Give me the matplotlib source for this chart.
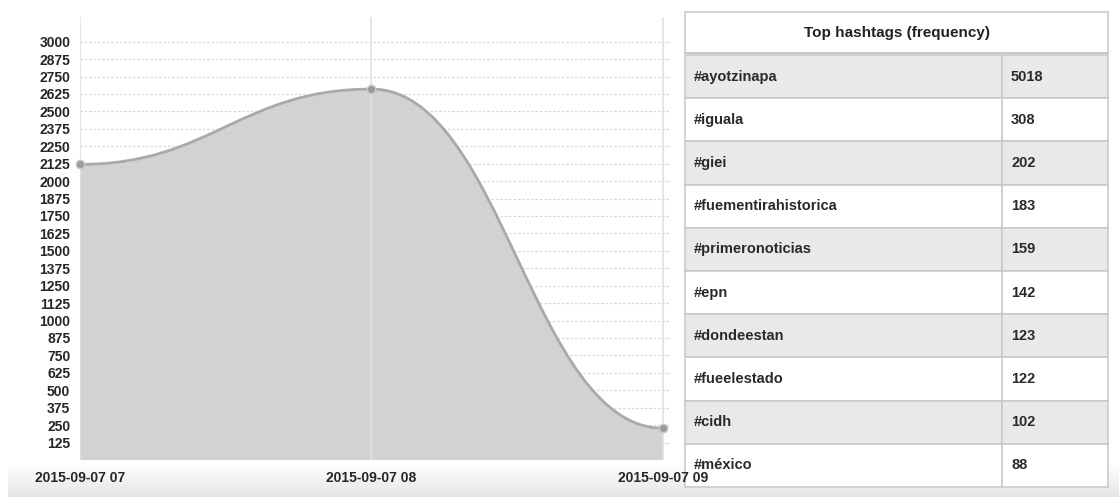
import matplotlib
matplotlib.use("Agg")
import matplotlib.pyplot as plt
import numpy as np
from matplotlib.path import Path
from matplotlib.patches import PathPatch, Rectangle

# ---- data ----
time_labels = ["2015-09-07 07", "2015-09-07 08", "2015-09-07 09"]
tweet_counts = [2120, 2660, 228]
y_ticks = list(range(125, 3001, 125))
hashtags = ["#ayotzinapa", "#iguala", "#giei", "#fuementirahistorica", "#primeronoticias",
            "#epn", "#dondeestan", "#fueelestado", "#cidh", "#méxico"]
hashtag_counts = [5018, 308, 202, 183, 159, 142, 123, 122, 102, 88]
table_title = "Top hashtags (frequency)"

W, H = 1119, 497
fig = plt.figure(figsize=(W / 100, H / 100), dpi=100)
plt.rcParams['font.family'] = ['Liberation Sans', 'DejaVu Sans']

# ---- background / table axes (pixel coordinates) ----
bg = fig.add_axes([0, 0, 1, 1], zorder=1)
bg.set_xlim(0, W)
bg.set_ylim(H, 0)
bg.axis('off')

# bottom gradient band
grad = np.linspace(1.0, 0.90, 64).reshape(-1, 1)
bg.imshow(np.dstack([grad, grad, grad]), extent=(8, W, H, 463), aspect='auto', zorder=0)

tx0, tx1, tsplit = 685, 1108, 1002
ttop, thead = 12, 53
row_h = 43.2
border = '#c8c8c8'
cell_fs = 10.5
# header
bg.add_patch(Rectangle((tx0, ttop), tx1 - tx0, thead - ttop, facecolor='white', edgecolor=border, lw=1.1, zorder=2))
bg.text((tx0 + tx1) / 2, (ttop + thead) / 2, table_title, ha='center', va='center',
        fontsize=11, fontweight='bold', color='#222', zorder=5)
for i, (tag, cnt) in enumerate(zip(hashtags, hashtag_counts)):
    y0 = thead + 2 + i * row_h
    fc = '#e9e9e9' if i % 2 == 0 else 'white'
    bg.add_patch(Rectangle((tx0, y0), tsplit - tx0, row_h, facecolor=fc, edgecolor=border, lw=1.1, zorder=2))
    bg.add_patch(Rectangle((tsplit, y0), tx1 - tsplit, row_h, facecolor=fc, edgecolor=border, lw=1.1, zorder=2))
    bg.text(tx0 + 9, y0 + row_h / 2, tag, ha='left', va='center', fontsize=cell_fs,
            fontweight='bold', color='#2a2a2a', zorder=5)
    bg.text(tsplit + 9, y0 + row_h / 2, str(cnt), ha='left', va='center', fontsize=cell_fs,
            fontweight='bold', color='#2a2a2a', zorder=5)
bg.plot([tx0, tx1], [thead, thead], color=border, lw=1.5, zorder=3)

# ---- chart axes ----
ax = fig.add_axes([80 / W, (H - 460) / H, 590 / W, 443 / H], zorder=2)
ax.patch.set_alpha(0)
x = np.arange(len(tweet_counts))
ax.set_xlim(0, 590 / 291.5)
ax.set_ylim(0, 3177)

# smooth curve through points with flat tangents (cubic Bezier segments)
verts = [(x[0], tweet_counts[0])]
codes = [Path.MOVETO]
k = 0.45
for i in range(len(x) - 1):
    h = x[i + 1] - x[i]
    verts += [(x[i] + k * h, tweet_counts[i]), (x[i + 1] - k * h, tweet_counts[i + 1]),
              (x[i + 1], tweet_counts[i + 1])]
    codes += [Path.CURVE4] * 3
line_path = Path(verts, codes)
fill_verts = verts + [(x[-1], 0), (x[0], 0), (x[0], tweet_counts[0])]
fill_codes = codes + [Path.LINETO, Path.LINETO, Path.CLOSEPOLY]
ax.add_patch(PathPatch(Path(fill_verts, fill_codes), facecolor='#d2d2d2', edgecolor='none', zorder=1))
ax.add_patch(PathPatch(line_path, facecolor='none', edgecolor='#a9a9a9', lw=2, zorder=3))
ax.plot(x, tweet_counts, 'o', ms=6, color='#9a9a9a', mec='#c8c8c8', mew=1, zorder=4, clip_on=False)

# grid
for yt in y_ticks:
    ax.axhline(yt, color='#d8d8d8', lw=0.9, ls=(0, (2, 1.5)), zorder=2)
for xi in x:
    ax.axvline(xi, color='#e0e0e0', lw=1.2, zorder=2)

ax.set_yticks(y_ticks)
ax.set_yticklabels([str(v) for v in y_ticks])
ax.set_xticks(x)
ax.set_xticklabels(time_labels)
ax.tick_params(axis='y', length=0, pad=7, labelsize=10, labelcolor='#262626')
ax.tick_params(axis='x', length=0, pad=8, labelsize=10, labelcolor='#262626')
for lab in ax.get_yticklabels() + ax.get_xticklabels():
    lab.set_fontweight('bold')
for s in ax.spines.values():
    s.set_visible(False)

fig.savefig('out.png', dpi=100, facecolor='white')
